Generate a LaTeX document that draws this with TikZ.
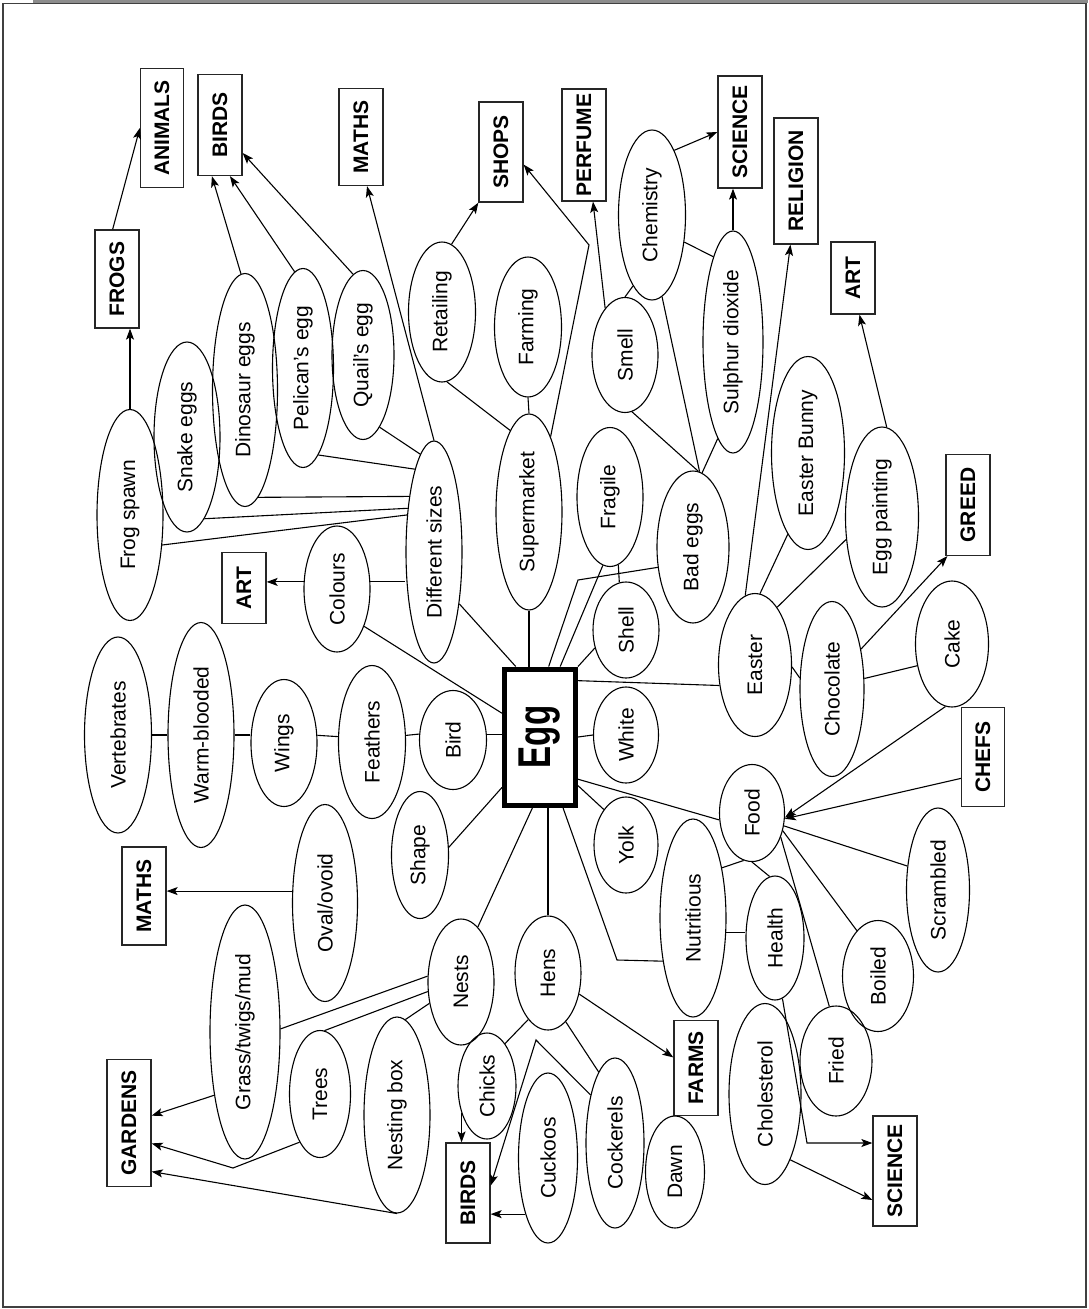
\documentclass[tikz,border=0pt]{standalone}
\usepackage{fontspec}
\setmainfont{Liberation Sans}
\usepackage{graphicx}
\usetikzlibrary{arrows.meta,shapes.geometric}
\newcommand{\vlab}[1]{\rotatebox{90}{#1}}
\tikzset{
  bub/.style 2 args={ellipse,draw,line width=1.1pt,inner sep=0pt,minimum width=#1,minimum height=#2,font=\fontsize{21}{24}\selectfont},
  tag/.style 2 args={rectangle,draw=black!85,line width=1.3pt,inner sep=0pt,minimum width=#1,minimum height=#2,font=\fontsize{21}{24}\selectfont\bfseries},
  hub/.style={rectangle,draw,line width=5pt,inner sep=0pt,minimum width=71,minimum height=136,font=\fontsize{46}{50}\selectfont\bfseries},
  ln/.style={line width=1.1pt},
  arr/.style={ln,-{Stealth[length=11pt,width=8pt,inset=2.5pt]}},
}
\begin{document}
\begin{tikzpicture}[x=1pt,y=-1pt]
\useasboundingbox (0,0) rectangle (1088,1309);
\fill[black!45] (33,0) rectangle (1088,2.5);
\draw[black!75,line width=1.5pt] (3,3.5) rectangle (1086,1307);
% centre
\node[hub] (egg) at (540,737) {\vlab{\scalebox{0.72}[1]{Egg}}};
% subject boxes
\node[tag={43}{119}] (animals) at (162,128) {\vlab{ANIMALS}};
\node[tag={44}{101}] (birdsT) at (220,125) {\vlab{BIRDS}};
\node[tag={44}{97}] (mathsT) at (361,137) {\vlab{MATHS}};
\node[tag={44}{98}] (frogs) at (117,279) {\vlab{FROGS}};
\node[tag={44}{100}] (shops) at (501,152) {\vlab{SHOPS}};
\node[tag={44}{112}] (perfume) at (584,145) {\vlab{PERFUME}};
\node[tag={44}{112}] (scienceT) at (740,132) {\vlab{SCIENCE}};
\node[tag={44}{126}] (religion) at (796,181) {\vlab{RELIGION}};
\node[tag={44}{72}] (artR) at (853,278) {\vlab{ART}};
\node[tag={44}{101}] (greed) at (968,505) {\vlab{GREED}};
\node[tag={43}{99}] (chefs) at (983,757) {\vlab{CHEFS}};
\node[tag={44}{71}] (artL) at (244,588) {\vlab{ART}};
\node[tag={44}{98}] (mathsL) at (144,896) {\vlab{MATHS}};
\node[tag={44}{127}] (gardens) at (129,1123) {\vlab{GARDENS}};
\node[tag={44}{100}] (birdsB) at (468,1193) {\vlab{BIRDS}};
\node[tag={44}{95}] (farms) at (696,1068) {\vlab{FARMS}};
\node[tag={44}{110}] (scienceB) at (895,1171) {\vlab{SCIENCE}};
% upper left: sizes
\node[bub={66}{211}] (fspawn) at (130,515) {\vlab{Frog spawn}};
\node[bub={66}{190}] (snake) at (187,437) {\vlab{Snake eggs}};
\node[bub={65}{233}] (dino) at (245,390) {\vlab{Dinosaur eggs}};
\node[bub={61}{199}] (pelican) at (303,368) {\vlab{Pelican's egg}};
\node[bub={62}{169}] (quail) at (363,355) {\vlab{Quail's egg}};
\node[bub={56}{222}] (diff) at (434,552) {\vlab{Different sizes}};
\node[bub={66}{126}] (colours) at (337,589) {\vlab{Colours}};
% left: bird chain
\node[bub={67}{196}] (vert) at (118,735) {\vlab{Vertebrates}};
\node[bub={66}{225}] (warm) at (201,735) {\vlab{Warm-blooded}};
\node[bub={66}{127}] (wings) at (284,743) {\vlab{Wings}};
\node[bub={67}{153}] (feathers) at (372,742) {\vlab{Feathers}};
\node[bub={67}{99}] (bird) at (453,740) {\vlab{Bird}};
\node[bub={57}{127}] (shape) at (420,855) {\vlab{Shape}};
\node[bub={65}{197}] (oval) at (325,903) {\vlab{Oval/ovoid}};
% lower left: nests and hens
\node[bub={70}{254}] (grass) at (245,1032) {\vlab{Grass/twigs/mud}};
\node[bub={61}{127}] (trees) at (320,1094) {\vlab{Trees}};
\node[bub={66}{196}] (nestbox) at (397,1115) {\vlab{Nesting box}};
\node[bub={66}{126}] (nests) at (461,982) {\vlab{Nests}};
\node[bub={66}{114}] (hens) at (548,973) {\vlab{Hens}};
\node[bub={58}{106}] (chicks) at (487,1086) {\vlab{Chicks}};
\node[bub={59}{170}] (cuckoos) at (548,1158) {\vlab{Cuckoos}};
\node[bub={58}{170}] (cockerels) at (615,1143) {\vlab{Cockerels}};
\node[bub={59}{112}] (dawn) at (675,1172) {\vlab{Dawn}};
% lower right: food
\node[bub={64}{96}] (yolk) at (626,845) {\vlab{Yolk}};
\node[bub={66}{198}] (nutri) at (693,918) {\vlab{Nutritious}};
\node[bub={58}{124}] (health) at (775,938) {\vlab{Health}};
\node[bub={72}{181}] (chol) at (765,1094) {\vlab{Cholesterol}};
\node[bub={72}{110}] (fried) at (836,1061) {\vlab{Fried}};
\node[bub={71}{111}] (boiled) at (878,976) {\vlab{Boiled}};
\node[bub={63}{164}] (scrambled) at (938,890) {\vlab{Scrambled}};
\node[bub={65}{97}] (food) at (752,813) {\vlab{Food}};
% right: shell, shops, smell, easter
\node[bub={65}{96}] (white) at (626,735) {\vlab{White}};
\node[bub={66}{96}] (shell) at (626,630) {\vlab{Shell}};
\node[bub={66}{139}] (fragile) at (610,497) {\vlab{Fragile}};
\node[bub={72}{152}] (badeggs) at (693,547) {\vlab{Bad eggs}};
\node[bub={66}{196}] (market) at (529,512) {\vlab{Supermarket}};
\node[bub={67}{140}] (farming) at (528,327) {\vlab{Farming}};
\node[bub={67}{140}] (retail) at (442,312) {\vlab{Retailing}};
\node[bub={66}{115}] (smell) at (625,355) {\vlab{Smell}};
\node[bub={67}{170}] (chem) at (652,215) {\vlab{Chemistry}};
\node[bub={60}{222}] (sulphur) at (733,342) {\vlab{Sulphur dioxide}};
\node[bub={73}{143}] (easter) at (755,665) {\vlab{Easter}};
\node[bub={64}{175}] (choc) at (832,689) {\vlab{Chocolate}};
\node[bub={73}{126}] (cake) at (952,644) {\vlab{Cake}};
\node[bub={73}{180}] (paint) at (882,517) {\vlab{Egg painting}};
\node[bub={73}{193}] (bunny) at (808,453) {\vlab{Easter Bunny}};
% bend points
\coordinate (bendS) at (589,245);
\coordinate (bendB) at (578,580);
\coordinate (bendN) at (617,960);
\coordinate (bendH) at (807,1143);
\coordinate (bendC) at (536,1040);
\coordinate (bendT) at (233,1168);
% links
\draw[ln](fspawn.-43)--(diff.126);\draw[ln](snake.-78)--(diff.121);\draw[ln](dino.-83)--(diff.114);
\draw[ln](pelican.-80)--(diff.103);\draw[ln](quail.-77)--(diff.98);
\draw[ln](colours.12)--(colours.12 -| diff.west);\draw[ln](colours.-54)--(egg.148);
\draw[ln](vert.east)--(warm.west);\draw[ln](warm.east)--(warm.east -| wings.west);
\draw[ln](wings.13)--(feathers.171);\draw[ln](feathers.11)--(bird.170);\draw[ln](bird.10)--(bird.10 -| egg.west);
\draw[ln](shape.15)--(egg.233);\draw[ln](nests.73)--(egg.-96);\draw[ln](hens.north)--(hens.north |- egg.south);
\draw[ln](egg.-72)--(bendN)--(nutri.-125);\draw[ln](egg.-52)--(yolk.122);\draw[ln](egg.-48)--(food.192);
\draw[ln](egg.east)--(white.west);\draw[ln](egg.north east)--(shell.210);\draw[ln](egg.74)--(fragile.-96);
\draw[ln](fragile.-83)--(shell.98);\draw[ln](egg.83)--(bendB)--(badeggs.210);
\draw[ln](market.south)--(market.south |- egg.north);\draw[ln](egg.109)--(diff.-64);
\draw[ln](farming.south)--(market.north);\draw[ln](retail.-86)--(market.103);
\draw[ln](smell.north)--(chem.255);\draw[ln](chem.-40)--(sulphur.103);\draw[ln](chem.-83)--(badeggs.85);
\draw[ln](smell.-83)--(badeggs.86);\draw[ln](sulphur.-99)--(badeggs.83);
\draw[ln](egg.56)--(easter.210);\draw[ln](easter.86)--(bunny.-104);\draw[ln](easter.69)--(paint.212);
\draw[ln](easter.-3)--(choc.161);\draw[ln](choc.18)--(cake.212);
\draw[ln](food.-22)--(scrambled.142);\draw[ln](food.-30)--(boiled.115);\draw[ln](food.-40)--(fried.97);
\draw[ln](food.-100)--(nutri.60);\draw[ln](food.south)--(health.95);\draw[ln](nutri.-23)--(nutri.-23 -| health.west);
\draw[ln](hens.-113)--(chicks.67);\draw[ln](hens.-70)--(cockerels.103);
\draw[ln](nests.214)--(nestbox.85);\draw[ln](nests.170)--(grass.5);\draw[ln](nests.196)--(trees.86);
% arrows to subjects
\draw[arr](frogs.95)--(animals.west);\draw[arr](fspawn.north)--(fspawn.north |- frogs.south);
\draw[arr](dino.92)--(birdsT.-99);\draw[arr](pelican.95)--(birdsT.-79);\draw[arr](quail.97)--(birdsT.-51);
\draw[arr](diff.north)--(mathsT.-83);\draw[arr](retail.82)--(shops.south west);
\draw[arr](market.74)--(bendS)--(shops.-29);\draw[arr](smell.113)--(perfume.-81);
\draw[arr](chem.71)--(scienceT.west);\draw[arr](sulphur.north)--(sulphur.north |- scienceT.south);
\draw[arr](easter.98)--(religion.-95);\draw[arr](paint.87)--(artR.-80);\draw[arr](choc.54)--(greed.-112);
\draw[arr](cake.-96)--(food.-8);\draw[arr](chefs.224)--(food.-10);
\draw[arr](health.-83)--(bendH)--(bendH -| scienceB.west);\draw[arr](chol.-69)--(scienceB.232);
\draw[arr](hens.-34)--(farms.155);\draw[arr](chicks.-133)--(chicks.-133 |- birdsB.north);
\draw[arr](cuckoos.-112)--(cuckoos.-112 -| birdsB.east);\draw[arr](cockerels.117)--(bendC)--(birdsB.18);
\draw[arr](grass.244)--(gardens.18);\draw[arr](trees.-113)--(bendT)--(gardens.-42);\draw[arr](nestbox.south)--(gardens.-65);
\draw[arr](oval.160)--(oval.160 -| mathsL.east);\draw[arr](colours.168)--(colours.168 -| artL.east);
\end{tikzpicture}
\end{document}
